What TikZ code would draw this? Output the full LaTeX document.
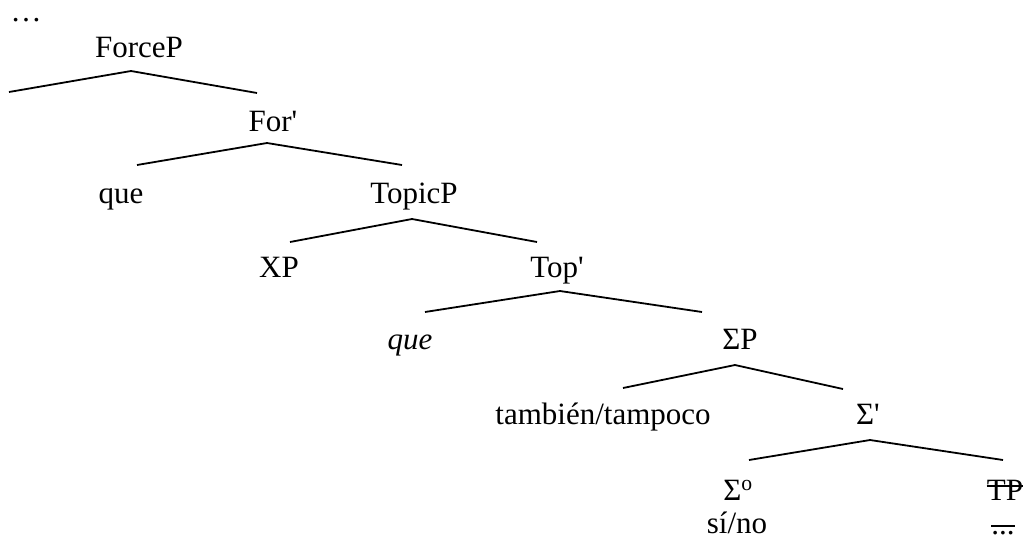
\documentclass[tikz,border=0pt]{standalone}
\usepackage{fontspec}
\setmainfont{Liberation Serif}
\begin{document}
\begin{tikzpicture}[x=1pt,y=-1pt,
  lbl/.style={font=\fontsize{31}{34}\selectfont, inner sep=0pt, anchor=base},
  branch/.style={line width=1.8pt},
  strike/.style={line width=1.5pt}]
\useasboundingbox (0,0) rectangle (1024,539);
% labels
\node[lbl] (dots) at (26,21) {…};
\node[lbl] (forcep) at (139,57) {ForceP};
\node[lbl] (forbar) at (273,131) {For\textquotesingle};
\node[lbl] (que1) at (121,203) {que};
\node[lbl] (topicp) at (414,203) {TopicP};
\node[lbl] (xp) at (279,277) {XP};
\node[lbl] (topbar) at (557,277) {Top\textquotesingle};
\node[lbl] (que2) at (410,349) {\itshape que};
\node[lbl] (sigmap) at (740,349) {ΣP};
\node[lbl] (tambien) at (603,424) {también/tampoco};
\node[lbl] (sigmabar) at (868,424) {Σ\textquotesingle};
\node[lbl] (sigmao) at (738,500) {Σ\textsuperscript{o}};
\node[lbl] (tp) at (1005,500) {TP};
\node[lbl] (sino) at (737,533) {sí/no};
\node[lbl] (tpdots) at (1003,534) {...};
% branch points
\coordinate (forcep-t) at (131,71);  \coordinate (forcep-l) at (9,92);   \coordinate (forcep-r) at (257,93);
\coordinate (forbar-t) at (267,143); \coordinate (forbar-l) at (137,165); \coordinate (forbar-r) at (402,165);
\coordinate (topicp-t) at (412,219); \coordinate (topicp-l) at (290,242); \coordinate (topicp-r) at (537,242);
\coordinate (topbar-t) at (560,291); \coordinate (topbar-l) at (425,312); \coordinate (topbar-r) at (702,312);
\coordinate (sigmap-t) at (735,365); \coordinate (sigmap-l) at (623,388); \coordinate (sigmap-r) at (843,389);
\coordinate (sigmabar-t) at (870,440); \coordinate (sigmabar-l) at (749,460); \coordinate (sigmabar-r) at (1003,460);
% branches
\draw[branch] (forcep-l) -- (forcep-t) -- (forcep-r);
\draw[branch] (forbar-l) -- (forbar-t) -- (forbar-r);
\draw[branch] (topicp-l) -- (topicp-t) -- (topicp-r);
\draw[branch] (topbar-l) -- (topbar-t) -- (topbar-r);
\draw[branch] (sigmap-l) -- (sigmap-t) -- (sigmap-r);
\draw[branch] (sigmabar-l) -- (sigmabar-t) -- (sigmabar-r);
% strike-through
\draw[strike] ([yshift=14pt]tp.base west) -- ([yshift=14pt]tp.base east);
\draw[strike] ([yshift=8pt]tpdots.base west) -- ([yshift=8pt]tpdots.base east);
\end{tikzpicture}
\end{document}
